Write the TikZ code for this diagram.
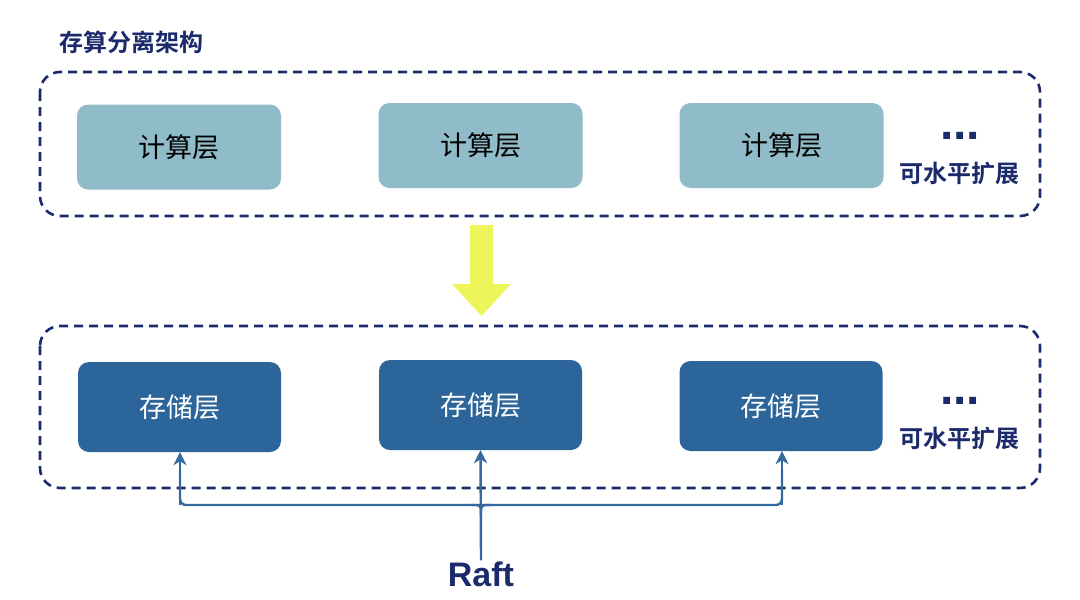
\documentclass[tikz,border=0pt]{standalone}
\usepackage{fontspec}
\setmainfont{Liberation Sans}
\newfontfamily\cjk{Noto Sans CJK SC}
\newfontfamily\cjkb{Noto Sans CJK SC Bold}
\usetikzlibrary{arrows.meta,calc}
\definecolor{navy}{HTML}{1B2A6B}
\definecolor{comp}{HTML}{8FBCC8}
\definecolor{stor}{HTML}{2C6599}
\definecolor{yel}{HTML}{EEF55A}
\definecolor{link}{HTML}{35699F}
\begin{document}
\begin{tikzpicture}[x=1pt,y=-1pt,
  group/.style={draw=navy,line width=2.6pt,dash pattern=on 9pt off 6pt,rounded corners=20pt},
  compbox/.style={fill=comp,rounded corners=11pt,minimum width=204pt,minimum height=85pt,inner sep=0pt,font=\cjk\fontsize{27}{27}\selectfont,text=black},
  storbox/.style={fill=stor,rounded corners=11pt,minimum width=203pt,minimum height=90pt,inner sep=0pt,font=\cjk\fontsize{27}{27}\selectfont,text=white},
  lbl/.style={text=navy,font=\cjkb\fontsize{24}{24}\selectfont,inner sep=0pt},
  dots/.style={text=navy,font=\bfseries\fontsize{48}{48}\selectfont,inner sep=0pt},
  wire/.style={draw=link,line width=2.4pt},
  conn/.style={wire,-{Stealth[length=13pt,width=13pt,inset=4pt]}}
]
\useasboundingbox (0,0) rectangle (1080,600);
\node[lbl,anchor=west] (title) at (59,42) {存算分离架构};
\draw[group] (40,72) rectangle (1040,216);
\draw[group] (40,326) rectangle (1040,488);
\node[compbox] (c1) at (179,147) {计算层};
\node[compbox] (c2) at (480.5,145.5) {计算层};
\node[compbox] (c3) at (781.5,145.5) {计算层};
\node[storbox] (s1) at (179.5,407) {存储层};
\node[storbox] (s2) at (480.5,405) {存储层};
\node[storbox] (s3) at (781,406) {存储层};
\node[dots] (d1) at (960,136) {...};
\node[dots] (d2) at (960,401) {...};
\node[lbl] (h1) at (959,173) {可水平扩展};
\node[lbl] (h2) at (959,438) {可水平扩展};
\fill[yel] (470,225) -- (493,225) -- (493,284) -- (511,284) -- (481.5,316) -- (452,284) -- (470,284) -- cycle;
\node[text=navy,font=\bfseries\fontsize{34}{34}\selectfont,inner sep=1pt] (raft) at (481,574) {Raft};
\coordinate (j1) at (180,505);
\coordinate (j3) at (782,505);
\coordinate (j2) at (481,505);
\draw[conn] (j1) -- ($(s1.south)+(0.5,0)$);
\draw[conn] (j3) -- ($(s3.south)+(1,0)$);
\draw[wire,rounded corners=6pt] (180,470) -- (j1) -- (j3) -- (782,470);
\draw[wire,rounded corners=4pt] ($(j2)+(-10,0)$) -- (j2) -- ($(j2)+(0,10)$);
\draw[wire,rounded corners=4pt] ($(j2)+(10,0)$) -- (j2) -- ($(j2)+(0,10)$);
\draw[conn] (raft.north) -- (s2.south);
\end{tikzpicture}
\end{document}
